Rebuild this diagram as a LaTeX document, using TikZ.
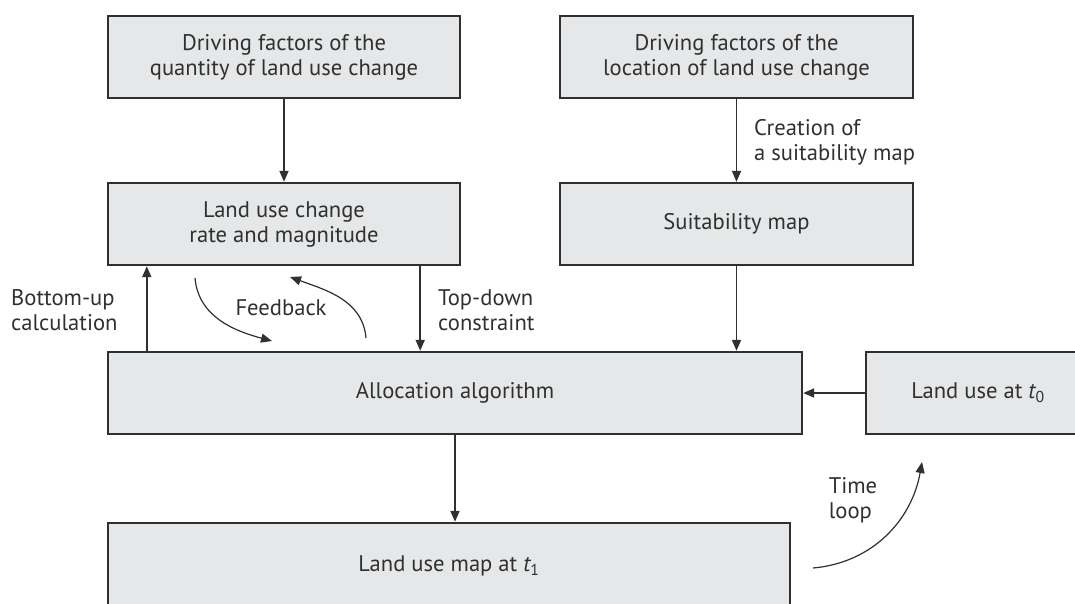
\documentclass[tikz,border=0pt]{standalone}
\usepackage{fontspec}
\setmainfont{PT Sans}
\usetikzlibrary{arrows.meta}
\definecolor{boxfill}{HTML}{E6E7E8}
\definecolor{ink}{HTML}{303030}
\begin{document}
\begin{tikzpicture}[x=1pt,y=-1pt,
  box/.style={draw=ink, fill=boxfill, line width=2.4pt, align=center, text=ink, inner sep=0pt, font=\fontsize{22.6}{25}\selectfont},
  lbl/.style={text=ink, align=left, inner sep=0pt, font=\fontsize{22.6}{25}\selectfont},
  arr/.style={draw=ink, line width=1.8pt, -{Triangle[length=11pt,width=9pt]}},
  curv/.style={draw=ink, line width=1.2pt, -{Triangle[length=11pt,width=9pt]}}]
\useasboundingbox (0,0) rectangle (1075,603);
\clip (0,0) rectangle (1075,603);
% boxes
\node[box, minimum width=352pt, minimum height=82pt] (b1) at (284,57) {Driving factors of the\\quantity of land use change};
\node[box, minimum width=353pt, minimum height=82pt] (b3) at (736.5,57) {Driving factors of the\\location of land use change};
\node[box, minimum width=352pt, minimum height=82pt] (b2) at (284,224) {Land use change\\rate and magnitude};
\node[box, minimum width=353pt, minimum height=82pt] (b4) at (736.5,224) {Suitability map};
\node[box, minimum width=694pt, minimum height=82pt] (alloc) at (455,393) {Allocation algorithm};
\node[box, minimum width=224pt, minimum height=82pt] (t0) at (978,393) {Land use at {\itshape t}\textsubscript{0}};
\node[box, minimum width=682pt, minimum height=86pt] (bot) at (449,566) {Land use map at {\itshape t}\textsubscript{1}};
% labels
\node[lbl, anchor=west] (lbu) at (11,310) {Bottom-up\\calculation};
\node[lbl, anchor=west] (ltd) at (438,310) {Top-down\\constraint};
\node[lbl, anchor=west] (lcr) at (754,142) {Creation of\\a suitability map};
\node[lbl] (lfb) at (281,308) {Feedback};
\node[lbl] (ltl) at (853,500) {Time\\loop};
% connectors
\draw[arr] (b1) -- (b2);
\draw[arr] (b3) -- (b4);
\draw[arr] (b4) -- (b4 |- alloc.north);
\coordinate (bu) at ([xshift=40pt]alloc.north west);
\draw[arr] (bu) -- (bu |- b2.south);
\coordinate (td) at ([xshift=-41pt]b2.south east);
\draw[arr] (td) -- (td |- alloc.north);
\draw[arr] (t0) -- (alloc);
\draw[arr] (alloc.south) -- (alloc.south |- bot.north);
% curved arrows
\coordinate (f1s) at (195,278);
\coordinate (f1e) at (272,341);
\draw[curv] (f1s) to[out=-85,in=165] (f1e);
\coordinate (f2s) at (366,338);
\coordinate (f2e) at (290,277);
\draw[curv] (f2s) to[out=95,in=-20] (f2e);
\coordinate (tls) at (813,568);
\coordinate (tle) at (922,462);
\draw[curv] (tls) to[out=5,in=-100] (tle);
\end{tikzpicture}
\end{document}
